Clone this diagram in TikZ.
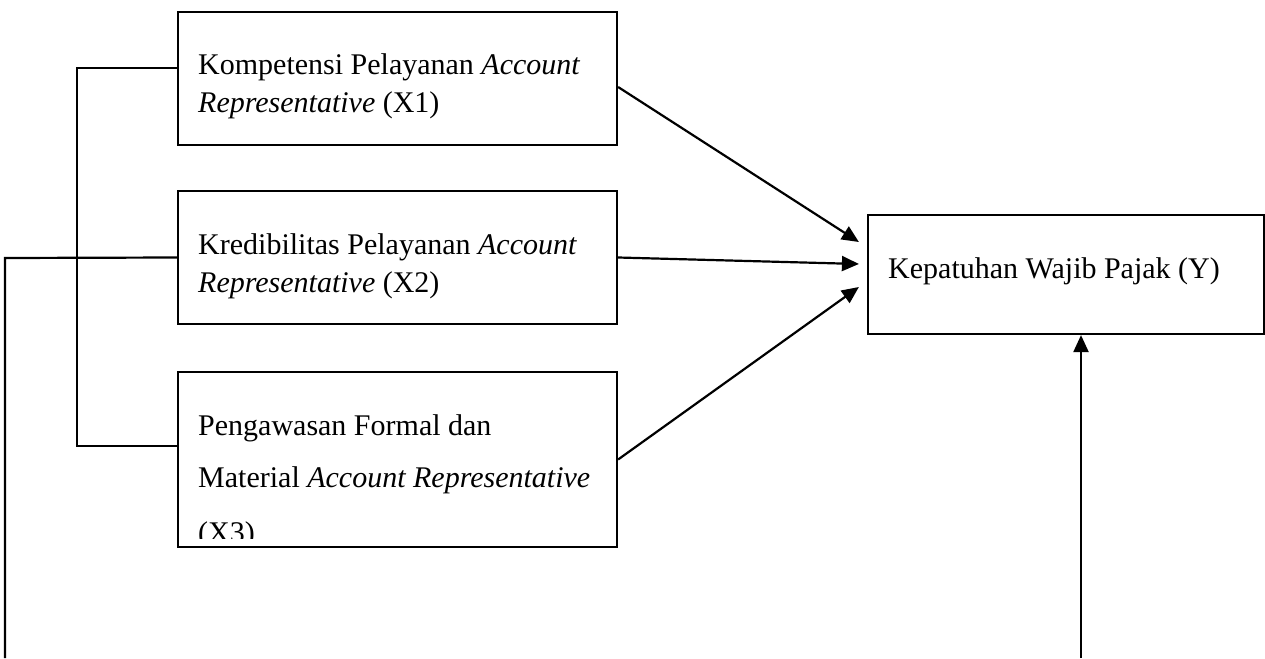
\documentclass[tikz,border=0pt]{standalone}
\usepackage{fontspec}
\setmainfont{Liberation Serif}
\usetikzlibrary{arrows.meta}
\begin{document}
\begin{tikzpicture}[x=1pt,y=-1pt,
  box/.style={draw,line width=2.2pt,inner sep=0pt,minimum width=439pt},
  lbl/.style={anchor=base west,inner sep=0pt,font=\fontsize{30}{36}\selectfont},
  conn/.style={line width=2.2pt},
  arr/.style={conn,-{Triangle[length=17pt,width=15pt]}}]
\useasboundingbox (0,0) rectangle (1265,658);
% boxes
\node[box,minimum height=133pt] (x1) at (397.5,78.5) {};
\node[box,minimum height=133pt] (x2) at (397.5,257.5) {};
\node[box,minimum height=175pt] (x3) at (397.5,459.5) {};
\node[box,minimum width=396pt,minimum height=119pt] (y) at (1066,274.5) {};
% texts
\node[lbl] (x1a) at (198,75) {Kompetensi Pelayanan \textit{Account}};
\node[lbl] (x1b) at (198,113) {\textit{Representative} (X1)};
\node[lbl] (x2a) at (198,254) {Kredibilitas Pelayanan \textit{Account}};
\node[lbl] (x2b) at (198,292) {\textit{Representative} (X2)};
\node[lbl] (x3a) at (198,435) {Pengawasan Formal dan};
\node[lbl] (x3b) at (198,487) {Material \textit{Account Representative}};
\begin{scope}
\clip (180,500) rectangle (615,538);
\node[lbl] (x3c) at (198,542) {(X3)};
\end{scope}
\node[lbl] (yt) at (888,278) {Kepatuhan Wajib Pajak (Y)};
% bracket
\coordinate (b1) at (77,68);
\coordinate (b2) at (77,446);
\coordinate (c1) at (5,258);
\coordinate (c2) at (5,658);
\coordinate (d1) at (1081,658);
\draw[conn] ([yshift=10.5pt]x1.west) -- (b1) -- (b2) -- ([yshift=13.5pt]x3.west);
\draw[conn] (x2.west) -- (c1) -- (c2);
% arrows
\draw[arr] ([yshift=-8.5pt]x1.east) -- ([xshift=-8pt,yshift=32.5pt]y.west);
\draw[arr] (x2.east) -- ([xshift=-8pt,yshift=10.5pt]y.west);
\draw[arr] (x3.east) -- ([xshift=-8pt,yshift=-12.5pt]y.west);
\draw[arr] (d1) -- ([xshift=15pt]y.south);
\end{tikzpicture}
\end{document}
